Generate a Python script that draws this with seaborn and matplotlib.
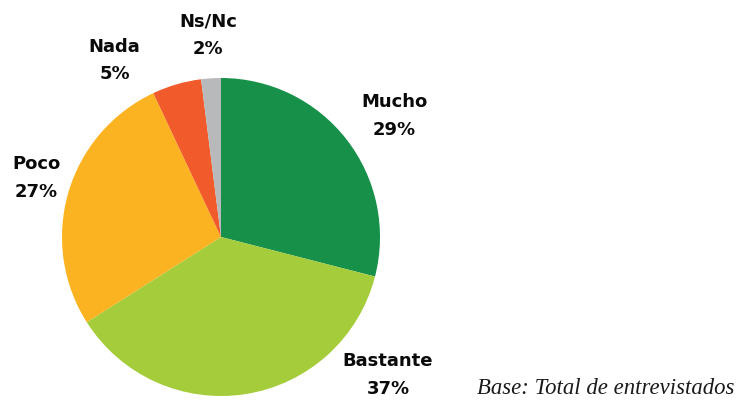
import matplotlib
matplotlib.use("Agg")
import matplotlib.pyplot as plt
import seaborn as sns

sns.set_style("white")

categories = ["Mucho", "Bastante", "Poco", "Nada", "Ns/Nc"]
values = [29, 37, 27, 5, 2]
colors = ["#17914A", "#A5CC3A", "#FBB321", "#F15A2B", "#B7B9BB"]
# label anchor points in data coords (pie radius = 1)
label_pos = [(1.09, 0.76), (1.05, -0.87), (-1.16, 0.37), (-0.67, 1.11), (-0.08, 1.27)]

fig = plt.figure(figsize=(7.36, 4.03), dpi=100)
ax = fig.add_axes([62 / 736, 7 / 403, 318 / 736, 318 / 403])

ax.pie(values, colors=colors, startangle=90, counterclock=False,
       radius=1, wedgeprops={"linewidth": 0})
ax.set_xlim(-1, 1)
ax.set_ylim(-1, 1)
ax.set_aspect("equal")
ax.axis("off")

for cat, val, (x, y) in zip(categories, values, label_pos):
    ax.text(x, y, f"{cat}\n{val}%", ha="center", va="center",
            fontsize=13, fontweight="bold", family="DejaVu Sans",
            linespacing=1.7, color="#0a0a0a", clip_on=False)

fig.text(606 / 736, 1 - 388 / 403, "Base: Total de entrevistados",
         ha="center", va="center", fontsize=16.4, style="italic",
         family="Liberation Serif", color="#1a1a1a")

fig.savefig("out.png", dpi=100)
